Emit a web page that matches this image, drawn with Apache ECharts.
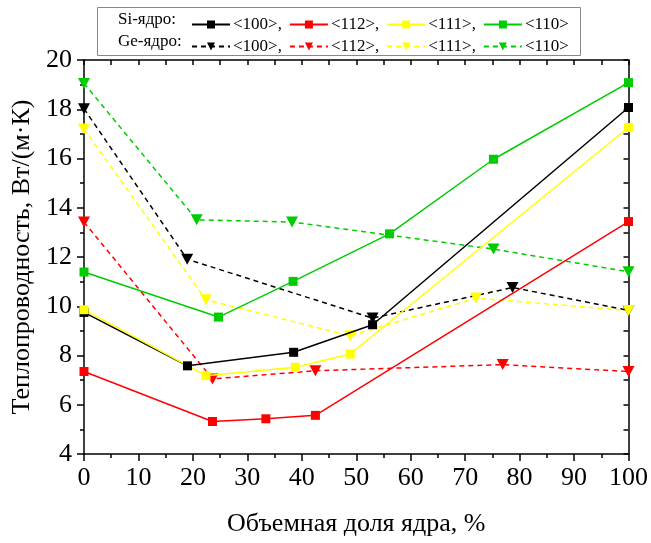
<!DOCTYPE html>
<html>
<head>
<meta charset="utf-8">
<script src="https://cdn.jsdelivr.net/npm/echarts@6/dist/echarts.min.js"></script>
<style>
  html, body { margin: 0; padding: 0; background: #fff; }
  #chart { width: 651px; height: 543px; }
</style>
</head>
<body>
<div id="chart"></div>
<script>
// Si core (solid lines, squares)
const si100X = [0, 19, 38.5, 53, 100];
const si100Y = [9.75, 7.58, 8.13, 9.25, 18.07];
const si112X = [0, 23.6, 33.4, 42.5, 100];
const si112Y = [7.35, 5.32, 5.43, 5.57, 13.44];
const si111X = [0, 22.4, 38.8, 48.9, 100];
const si111Y = [9.86, 7.18, 7.52, 8.06, 17.26];
const si110X = [0, 24.7, 38.4, 56.1, 75.2, 100];
const si110Y = [11.39, 9.56, 11.01, 12.94, 15.97, 19.08];

// Ge core (dashed lines, down triangles)
const ge100X = [0, 18.95, 53, 78.7, 100];
const ge100Y = [18.02, 11.91, 9.52, 10.76, 9.83];
const ge112X = [0, 23.6, 42.5, 76.9, 100];
const ge112Y = [13.42, 7.05, 7.38, 7.63, 7.35];
const ge111X = [0, 22.4, 48.9, 72, 100];
const ge111Y = [17.2, 10.26, 8.8, 10.33, 9.83];
const ge110X = [0, 20.7, 38.2, 75.2, 100];
const ge110Y = [19.05, 13.51, 13.42, 12.32, 11.4];

const orientations = ['<100>', '<112>', '<111>', '<110>'];
const colors = ['#000000', '#ff0000', '#ffff00', '#00cc00'];

const siSets = [[si100X, si100Y], [si112X, si112Y], [si111X, si111Y], [si110X, si110Y]];
const geSets = [[ge100X, ge100Y], [ge112X, ge112Y], [ge111X, ge111Y], [ge110X, ge110Y]];

const serif = 'Liberation Serif, Times New Roman, serif';

function zip(xs, ys) {
  return xs.map((x, i) => [x, ys[i]]);
}

const siSeries = siSets.map(([xs, ys], i) => ({
  name: 'Si ' + orientations[i],
  type: 'line',
  data: zip(xs, ys),
  symbol: 'rect',
  symbolSize: 9,
  lineStyle: { color: colors[i], width: 1.5 },
  itemStyle: { color: colors[i] },
  z: 3
}));

const geSeries = geSets.map(([xs, ys], i) => ({
  name: 'Ge ' + orientations[i],
  type: 'line',
  data: zip(xs, ys),
  symbol: 'triangle',
  symbolRotate: 180,
  symbolSize: [12, 11],
  lineStyle: { color: colors[i], width: 1.5, type: [5, 4] },
  itemStyle: { color: colors[i] },
  z: 2
}));

const legendLabel = function (name) {
  const o = name.slice(3);
  return o === '<110>' ? o : o + ',';
};

const legendBase = {
  left: 186,
  itemWidth: 38,
  itemHeight: 10,
  itemGap: 7,
  formatter: legendLabel,
  textStyle: { fontFamily: serif, fontSize: 17, color: '#000', padding: [0, 0, 0, -2] },
  selectedMode: false
};

const chart = echarts.init(document.getElementById('chart'));
chart.setOption({
  animation: false,
  backgroundColor: '#fff',
  grid: { left: 84, right: 22, top: 60, bottom: 89 },
  legend: [
    { ...legendBase, top: 11, data: siSeries.map(s => s.name) },
    { ...legendBase, top: 33, data: geSeries.map(s => s.name) }
  ],
  graphic: [
    {
      type: 'rect', left: 95, top: 5,
      shape: { width: 483, height: 48 },
      style: { fill: 'none', stroke: '#888', lineWidth: 1 }
    },
    {
      type: 'text', left: 118, top: 11,
      style: { text: 'Si-ядро:', font: '17px ' + serif, fill: '#000' }
    },
    {
      type: 'text', left: 118, top: 33,
      style: { text: 'Ge-ядро:', font: '17px ' + serif, fill: '#000' }
    }
  ],
  xAxis: [
    {
      type: 'value', min: 0, max: 100, interval: 10,
      position: 'bottom',
      name: 'Объемная доля ядра, %',
      nameLocation: 'middle',
      nameGap: 57,
      nameTextStyle: { fontFamily: serif, fontSize: 26, color: '#000' },
      axisLine: { show: true, lineStyle: { color: '#000', width: 1.5 } },
      axisTick: { show: true, inside: false, length: 7, lineStyle: { color: '#000', width: 1.5 } },
      minorTick: { show: true, splitNumber: 2, length: 4, lineStyle: { color: '#000', width: 1.5 } },
      axisLabel: { fontFamily: serif, fontSize: 26, color: '#000', margin: 11 },
      splitLine: { show: false }
    },
    {
      type: 'value', min: 0, max: 100, interval: 5,
      position: 'top',
      axisLine: { show: true, onZero: false, lineStyle: { color: '#000', width: 1.5 } },
      axisTick: { show: true, inside: true, length: 5, lineStyle: { color: '#000', width: 1.5 } },
      axisLabel: { show: false },
      splitLine: { show: false }
    }
  ],
  yAxis: [
    {
      type: 'value', min: 4, max: 20, interval: 2,
      position: 'left',
      name: 'Теплопроводность, Вт/(м·К)',
      nameLocation: 'middle',
      nameGap: 46,
      nameTextStyle: { fontFamily: serif, fontSize: 26, color: '#000' },
      axisLine: { show: true, onZero: false, lineStyle: { color: '#000', width: 1.5 } },
      axisTick: { show: true, inside: false, length: 7, lineStyle: { color: '#000', width: 1.5 } },
      minorTick: { show: true, splitNumber: 2, length: 4, lineStyle: { color: '#000', width: 1.5 } },
      axisLabel: { fontFamily: serif, fontSize: 26, color: '#000', margin: 12 },
      splitLine: { show: false }
    },
    {
      type: 'value', min: 4, max: 20, interval: 1,
      position: 'right',
      axisLine: { show: true, onZero: false, lineStyle: { color: '#000', width: 1.5 } },
      axisTick: { show: true, inside: true, length: 5, lineStyle: { color: '#000', width: 1.5 } },
      axisLabel: { show: false },
      splitLine: { show: false }
    }
  ],
  series: [...geSeries, ...siSeries]
});
</script>
</body>
</html>
